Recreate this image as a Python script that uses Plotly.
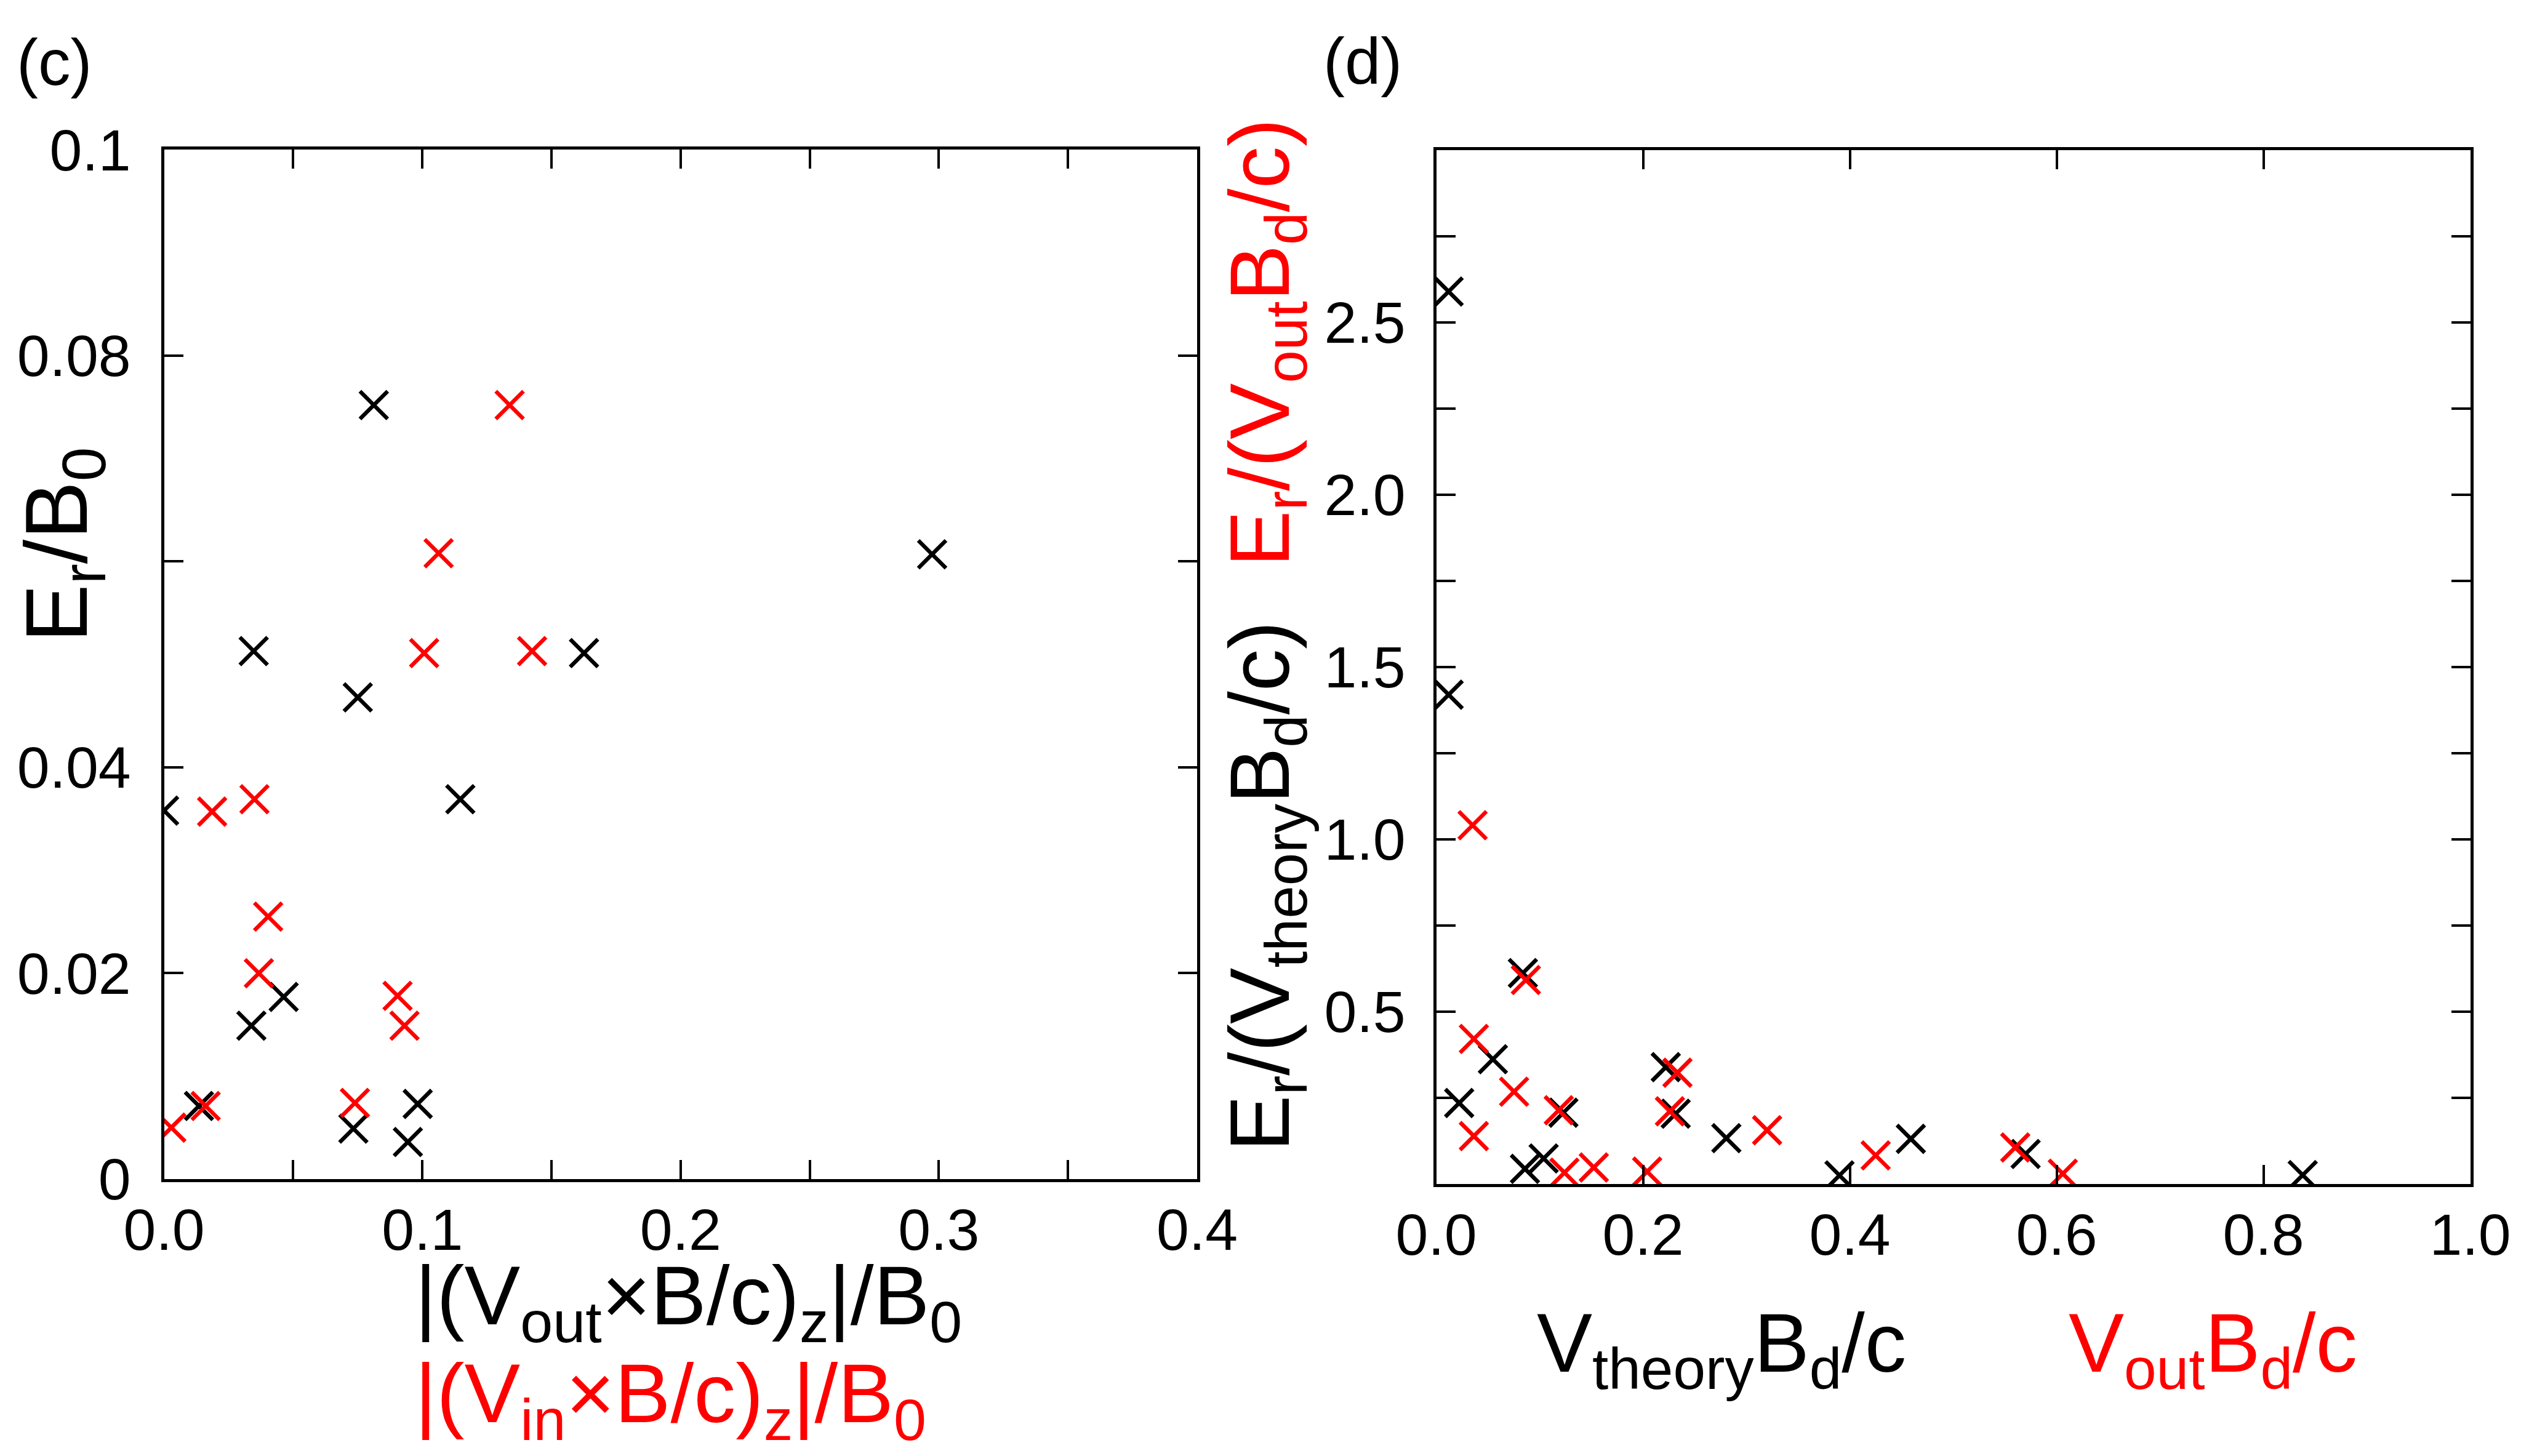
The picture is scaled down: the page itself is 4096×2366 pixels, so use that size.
import plotly.graph_objects as go

# ---------------- data ----------------
# panel (c)
c_black_x = [0.0812, 0.2974, 0.0347, 0.1626, 0.0750, 0.1147, 0.0, 0.0463, 0.0338, 0.0135, 0.0733, 0.0982, 0.0944]
c_black_y = [0.0752, 0.0607, 0.0513, 0.0511, 0.0468, 0.0369, 0.0358, 0.0177, 0.0149, 0.0071, 0.0049, 0.0073, 0.0036]
c_red_x = [0.1338, 0.1063, 0.1007, 0.1425, 0.0186, 0.0350, 0.0403, 0.0367, 0.0904, 0.0931, 0.0161, 0.0739, 0.0028]
c_red_y = [0.0752, 0.0608, 0.0511, 0.0513, 0.0357, 0.0369, 0.0255, 0.0200, 0.0178, 0.0149, 0.0071, 0.0074, 0.0050]

# panel (d)
d_black_x = [0.012, 0.012, 0.0838, 0.0548, 0.0222, 0.123, 0.222, 0.2316, 0.2806, 0.0858, 0.1039, 0.390, 0.459, 0.570, 0.838]
d_black_y = [2.59, 1.42, 0.612, 0.362, 0.235, 0.207, 0.339, 0.204, 0.133, 0.044, 0.074, 0.025, 0.131, 0.087, 0.026]
d_red_x = [0.0352, 0.0867, 0.0364, 0.0753, 0.0364, 0.1185, 0.2333, 0.226, 0.320, 0.124, 0.1524, 0.204, 0.425, 0.560, 0.606]
d_red_y = [1.041, 0.592, 0.421, 0.268, 0.139, 0.214, 0.323, 0.211, 0.156, 0.033, 0.048, 0.036, 0.083, 0.106, 0.030]

# ticks
c_x_tickvals = [0, 0.05, 0.1, 0.15, 0.2, 0.25, 0.3, 0.35, 0.4]
c_x_ticktext = ["0.0", "", "0.1", "", "0.2", "", "0.3", "", "0.4"]
c_y_tickvals = [0, 0.02, 0.04, 0.06, 0.08, 0.1]
c_y_ticktext = ["0", "0.02", "0.04", "", "0.08", "0.1"]
d_x_tickvals = [0, 0.2, 0.4, 0.6, 0.8, 1.0]
d_x_ticktext = ["0.0", "0.2", "0.4", "0.6", "0.8", "1.0"]
d_y_tickvals = [0, 0.25, 0.5, 0.75, 1.0, 1.25, 1.5, 1.75, 2.0, 2.25, 2.5, 2.75, 3.0]
d_y_ticktext = ["", "", "0.5", "", "1.0", "", "1.5", "", "2.0", "", "2.5", "", ""]

# ---------------- layout constants ----------------
W, H = 4096, 2366
FONT = "Liberation Sans, Arial, Helvetica, sans-serif"
BLACK = "#000000"
RED = "#ff0000"


def px(x):
    return x / W


def py(y):
    return 1 - y / H


fig = go.Figure()


def add_pts(xs, ys, color, xa, ya):
    fig.add_trace(go.Scatter(
        x=xs, y=ys, mode="markers", xaxis=xa, yaxis=ya,
        marker=dict(symbol="x-thin", size=45, color=color,
                    line=dict(color=color, width=6.5)),
        showlegend=False, hoverinfo="skip", cliponaxis=True))


add_pts(c_black_x, c_black_y, BLACK, "x", "y")
add_pts(c_red_x, c_red_y, RED, "x", "y")
add_pts(d_black_x, d_black_y, BLACK, "x2", "y2")
add_pts(d_red_x, d_red_y, RED, "x2", "y2")

axis_common = dict(
    showgrid=False, zeroline=False, showline=True, linecolor=BLACK, linewidth=5,
    mirror="ticks", ticks="inside", ticklen=31, tickwidth=4, tickcolor=BLACK,
    tickfont=dict(family=FONT, size=95, color=BLACK), tickmode="array",
    automargin=False,
)

fig.update_layout(
    width=W, height=H,
    margin=dict(l=0, r=0, t=0, b=0, pad=0, autoexpand=False),
    paper_bgcolor="white", plot_bgcolor="white",
    font=dict(family=FONT, color=BLACK),
    xaxis=dict(**axis_common, domain=[px(266.6), px(1945)], range=[0, 0.4],
               tickvals=c_x_tickvals, ticktext=c_x_ticktext, anchor="y", ticklabelstandoff=-4),
    yaxis=dict(**axis_common, domain=[py(1916), py(243.4)], range=[0, 0.1],
               tickvals=c_y_tickvals, ticktext=c_y_ticktext, anchor="x", ticklabelstandoff=30),
    xaxis2=dict(**axis_common, domain=[px(2333.5), px(4013.5)], range=[0, 1.0],
                tickvals=d_x_tickvals, ticktext=d_x_ticktext, anchor="y2", ticklabelstandoff=-4),
    yaxis2=dict(**axis_common, domain=[py(1924), py(244.1)], range=[0, 3.0],
                tickvals=d_y_tickvals, ticktext=d_y_ticktext, anchor="x2", ticklabelstandoff=26),
)

ann = []


def add_text(text, x, y, size, color=BLACK, angle=0, xanchor="center", yanchor="middle"):
    ann.append(dict(text=text, x=px(x), y=py(y), xref="paper", yref="paper",
                    showarrow=False, textangle=angle, xanchor=xanchor, yanchor=yanchor,
                    font=dict(family=FONT, size=size, color=color)))


# panel labels
add_text("(c)", 88, 101, 105)
add_text("(d)", 2214, 99, 105)

# panel (c) titles
add_text("E<sub>r</sub>/B<sub>0</sub>", 102, 886, 142, angle=-90)
add_text("|(V<sub>out</sub>×B/c)<sub>z</sub>|/B<sub>0</sub>", 672, 2115, 136, xanchor="left")
add_text("|(V<sub>in</sub>×B/c)<sub>z</sub>|/B<sub>0</sub>", 672, 2274, 136, color=RED, xanchor="left")

# panel (d) titles
add_text("E<sub>r</sub>/(V<sub>out</sub>B<sub>d</sub>/c)", 2057, 557, 137, color=RED, angle=-90)
add_text("E<sub>r</sub>/(V<sub>theory</sub>B<sub>d</sub>/c)", 2056, 1440, 137, angle=-90)
add_text("V<sub>theory</sub>B<sub>d</sub>/c", 2797, 2192, 135)
add_text("V<sub>out</sub>B<sub>d</sub>/c", 3595, 2192, 135, color=RED)

fig.update_layout(annotations=ann)

fig.write_html("out.html")
